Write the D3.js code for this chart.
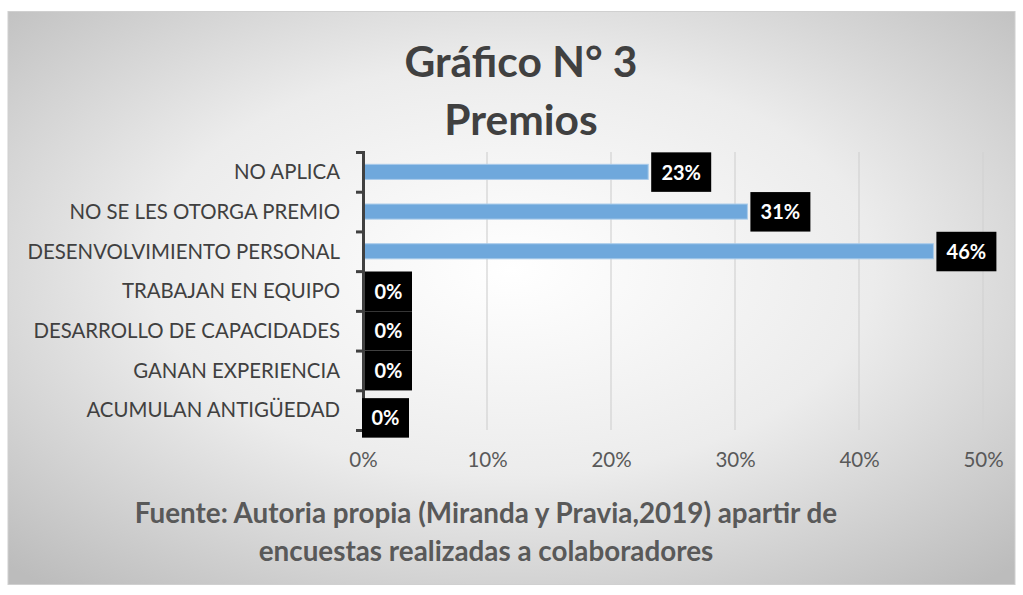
<!DOCTYPE html>
<html><head><meta charset="utf-8">
<script src="https://cdn.jsdelivr.net/npm/d3@7"></script>
<style>body{margin:0;background:#fff}svg{display:block}</style>
</head><body>
<script>
const categories = ["NO APLICA","NO SE LES OTORGA PREMIO","DESENVOLVIMIENTO PERSONAL","TRABAJAN EN EQUIPO","DESARROLLO DE CAPACIDADES","GANAN EXPERIENCIA","ACUMULAN ANTIGÜEDAD"];
const values = [0.23, 0.31, 0.46, 0, 0, 0, 0];
const tickValues = [0, 0.1, 0.2, 0.3, 0.4, 0.5];
const titleLines = ["Gráfico N° 3", "Premios"];
const footerLines = ["Fuente: Autoria propia (Miranda y Pravia,2019) apartir de", "encuestas realizadas a colaboradores"];

const W = 1023, H = 595;
const font = "Lato, 'Open Sans', sans-serif";
const svg = d3.select("body").append("svg").attr("width", W).attr("height", H);
const defs = svg.append("defs");
const grad = defs.append("radialGradient").attr("id","bg").attr("cx","50%").attr("cy","45%").attr("r","72%");
grad.append("stop").attr("offset","0%").attr("stop-color","#ffffff");
grad.append("stop").attr("offset","50%").attr("stop-color","#ececec");
grad.append("stop").attr("offset","100%").attr("stop-color","#bcbcbc");

svg.append("rect").attr("x",8).attr("y",11.5).attr("width",1007).attr("height",573)
  .attr("fill","url(#bg)").attr("stroke","#d0d0d0").attr("stroke-width",1);

const m = {left:363, right:983, top:152, bottom:430};
const x = d3.scaleLinear().domain([0,0.5]).range([m.left, m.right]);
const y = d3.scaleBand().domain(categories).range([m.top, m.bottom]).paddingInner(0.62).paddingOuter(0.31);

// gridlines
svg.append("g").selectAll("line").data(tickValues.slice(1)).join("line")
  .attr("x1", d=>x(d)).attr("x2", d=>x(d)).attr("y1", m.top).attr("y2", m.bottom)
  .attr("stroke","#d2d2d2").attr("stroke-width",1.2);

// bars
svg.append("g").selectAll("rect").data(values).join("rect")
  .attr("x", x(0)).attr("y", (d,i)=>y(categories[i]))
  .attr("width", d=>x(d)-x(0)).attr("height", y.bandwidth())
  .attr("fill","#6fa8dc").attr("stroke","#a9cbea").attr("stroke-width",1);

// y axis
const yAxis = d3.axisLeft(d3.scaleLinear().domain([0,7]).range([m.top,m.bottom])).ticks(7).tickSize(7).tickFormat("");
const ya = svg.append("g").attr("transform",`translate(${m.left},0)`).call(yAxis);
ya.select(".domain").attr("stroke","#404040").attr("stroke-width",3);
ya.selectAll(".tick line").attr("stroke","#404040").attr("stroke-width",3);

// category labels
svg.append("g").selectAll("text").data(categories).join("text")
  .attr("x", 340).attr("y", d=>y(d)+y.bandwidth()/2).attr("dy","0.36em")
  .attr("text-anchor","end").attr("font-family",font).attr("font-size",20.4)
  .attr("fill","#404040").text(d=>d);

// x axis labels
const xa = svg.append("g").attr("transform",`translate(0,${m.bottom})`)
  .call(d3.axisBottom(x).tickValues(tickValues).tickSize(0).tickPadding(0).tickFormat(d3.format(".0%")));
xa.select(".domain").remove();
xa.selectAll("text").attr("y",37).attr("dy",0).attr("font-family",font).attr("font-size",20.5).attr("fill","#595959");

// data labels
const lbl = svg.append("g");
values.forEach((v,i)=>{
  const txt = d3.format(".0%")(v);
  const w = v > 0 ? 60 : 47;
  const cy = y(categories[i]) + y.bandwidth()/2;
  const last = i === values.length-1;
  const bx = v > 0 ? x(v) + 3 : (last ? x(0) - 1 : x(0) + 2);
  const by = last ? cy - 12 : cy - 19.5;
  lbl.append("rect").attr("x",bx).attr("y",by).attr("width",w).attr("height",39.5).attr("fill","#000");
  lbl.append("text").attr("x",bx+w/2).attr("y",by+20).attr("dy","0.36em").attr("text-anchor","middle")
    .attr("font-family",font).attr("font-weight","bold").attr("font-size",20).attr("fill","#fff").text(txt);
});

// title
svg.append("g").selectAll("text").data(titleLines).join("text")
  .attr("x",521).attr("y",(d,i)=>77+i*58).attr("text-anchor","middle")
  .attr("font-family",font).attr("font-weight","bold").attr("font-size",42.5).attr("fill","#404040").text(d=>d);

// footer
svg.append("g").selectAll("text").data(footerLines).join("text")
  .attr("x",486).attr("y",(d,i)=>523+i*38).attr("text-anchor","middle")
  .attr("font-family",font).attr("font-weight","bold").attr("font-size",27.8).attr("fill","#595959").text(d=>d);
</script>
</body></html>
